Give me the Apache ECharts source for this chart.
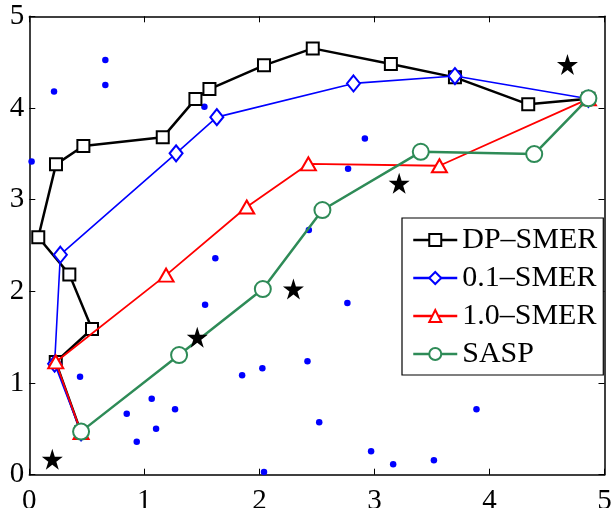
<!DOCTYPE html>
<html>
<head>
<meta charset="utf-8">
<script src="https://cdn.jsdelivr.net/npm/echarts@6/dist/echarts.min.js"></script>
<style>html,body{margin:0;padding:0;background:#fff}#c{width:611px;height:508px}</style>
</head>
<body>
<div id="c"></div>
<script>
var xTicks = [0, 1, 2, 3, 4, 5];
var yTicks = [0, 1, 2, 3, 4, 5];
var seriesNames = ['DP\u2013SMER', '0.1\u2013SMER', '1.0\u2013SMER', 'SASP'];

var dpX = [0.45, 0.23, 0.545, 0.348, 0.078, 0.232, 0.47, 1.16, 1.444, 1.566, 2.04, 2.464, 3.143, 3.70, 4.337, 4.86];
var dpY = [0.46, 1.23, 1.589, 2.185, 2.59, 3.385, 3.585, 3.68, 4.097, 4.206, 4.465, 4.65, 4.479, 4.334, 4.04, 4.10];

var s01X = [0.45, 0.22, 0.27, 1.276, 1.63, 2.818, 3.70, 4.86];
var s01Y = [0.46, 1.21, 2.40, 3.505, 3.90, 4.268, 4.348, 4.10];

var s10X = [0.45, 0.23, 1.189, 1.89, 2.426, 3.565, 4.86];
var s10Y = [0.46, 1.23, 2.177, 2.92, 3.39, 3.37, 4.10];

var saspX = [0.45, 1.302, 2.03, 2.548, 3.403, 4.389, 4.86];
var saspY = [0.47, 1.305, 2.025, 2.887, 3.522, 3.497, 4.105];

var starX = [0.2, 1.46, 2.296, 3.215, 4.678];
var starY = [0.168, 1.50, 2.025, 3.178, 4.475];

var dotX = [0.02, 0.215, 0.661, 0.661, 1.522, 1.617, 2.43, 2.917, 2.771, 0.441, 0.847, 0.934, 1.064, 1.102, 1.267, 1.528, 1.85, 2.026, 2.04, 2.418, 2.52, 2.765, 3.887, 2.971, 3.163, 3.517];
var dotY = [3.417, 4.18, 4.522, 4.25, 4.013, 2.36, 2.668, 3.668, 3.337, 1.069, 0.665, 0.36, 0.829, 0.502, 0.713, 1.854, 1.084, 1.16, 0.03, 1.237, 0.571, 1.872, 0.713, 0.255, 0.113, 0.157];

function pairs(xs, ys) { return xs.map(function (x, i) { return [x, ys[i]]; }); }

var FONT = 'Liberation Serif';
var starPath = 'path://M50,0 L61.2,34.5 L97.6,34.5 L68.2,55.9 L79.4,90.5 L50,69.1 L20.6,90.5 L31.8,55.9 L2.4,34.5 L38.8,34.5 Z';

function xAx(pos, showLabel) {
  return {
    type: 'value', position: pos, min: xTicks[0], max: xTicks[xTicks.length - 1], interval: 1,
    axisLine: { show: true, onZero: false, lineStyle: { color: '#000', width: 1.5 } },
    axisTick: { show: true, inside: true, length: 6, lineStyle: { color: '#000', width: 1 } },
    axisLabel: { show: showLabel, color: '#000', fontFamily: FONT, fontSize: 29, margin: 12 },
    splitLine: { show: false }
  };
}
function yAx(pos, showLabel) {
  return {
    type: 'value', position: pos, min: yTicks[0], max: yTicks[yTicks.length - 1], interval: 1,
    axisLine: { show: true, onZero: false, lineStyle: { color: '#000', width: 1.5 } },
    axisTick: { show: true, inside: true, length: 6, lineStyle: { color: '#000', width: 1 } },
    axisLabel: { show: showLabel, color: '#000', fontFamily: FONT, fontSize: 29, margin: 5 },
    splitLine: { show: false }
  };
}

function lineSeries(name, xs, ys, color, symbol, size, lw, z) {
  return {
    name: name, type: 'line', data: pairs(xs, ys), z: z,
    symbol: symbol, symbolSize: size, showSymbol: true,
    lineStyle: { color: color, width: lw },
    itemStyle: { color: '#fff', borderColor: color, borderWidth: 2, opacity: 1 },
    emphasis: { disabled: true }, animation: false
  };
}

var chart = echarts.init(document.getElementById('c'), null, { renderer: 'canvas' });
chart.setOption({
  animation: false,
  backgroundColor: '#fff',
  textStyle: { fontFamily: FONT },
  grid: { left: 29.3, right: 6.5, top: 16.3, bottom: 33.3, containLabel: false, outerBoundsMode: 'none' },
  xAxis: [xAx('bottom', true), xAx('top', false)],
  yAxis: [yAx('left', true), yAx('right', false)],
  legend: {
    data: seriesNames,
    orient: 'vertical', left: 402, top: 218, width: 200,
    padding: [7, 6, 6, 10], itemGap: 8,
    itemWidth: 44, itemHeight: 15,
    backgroundColor: '#fff', borderColor: '#000', borderWidth: 1.2,
    textStyle: { color: '#000', fontFamily: FONT, fontSize: 30, lineHeight: 30, padding: [0, 0, 0, 0] },
    itemStyle: { borderWidth: 2 },
    lineStyle: { width: 2.5 }
  },
  series: [
    {
      name: 'dots', type: 'scatter', data: pairs(dotX, dotY), symbol: 'circle', symbolSize: 6.5,
      itemStyle: { color: '#0000ff', opacity: 1 }, z: 1, silent: true
    },
    lineSeries(seriesNames[0], dpX, dpY, '#000000', 'rect', 12, 2.5, 2),
    lineSeries(seriesNames[1], s01X, s01Y, '#0000ff', 'diamond', [13, 16], 1.6, 3),
    lineSeries(seriesNames[2], s10X, s10Y, '#ff0000', 'triangle', [15, 13], 1.8, 4),
    lineSeries(seriesNames[3], saspX, saspY, '#2e8b57', 'circle', 16, 2.5, 5),
    {
      name: 'stars', type: 'scatter', data: pairs(starX, starY), symbol: starPath, symbolSize: 21,
      itemStyle: { color: '#000', opacity: 1 }, z: 6, silent: true
    }
  ]
});
</script>
</body>
</html>
